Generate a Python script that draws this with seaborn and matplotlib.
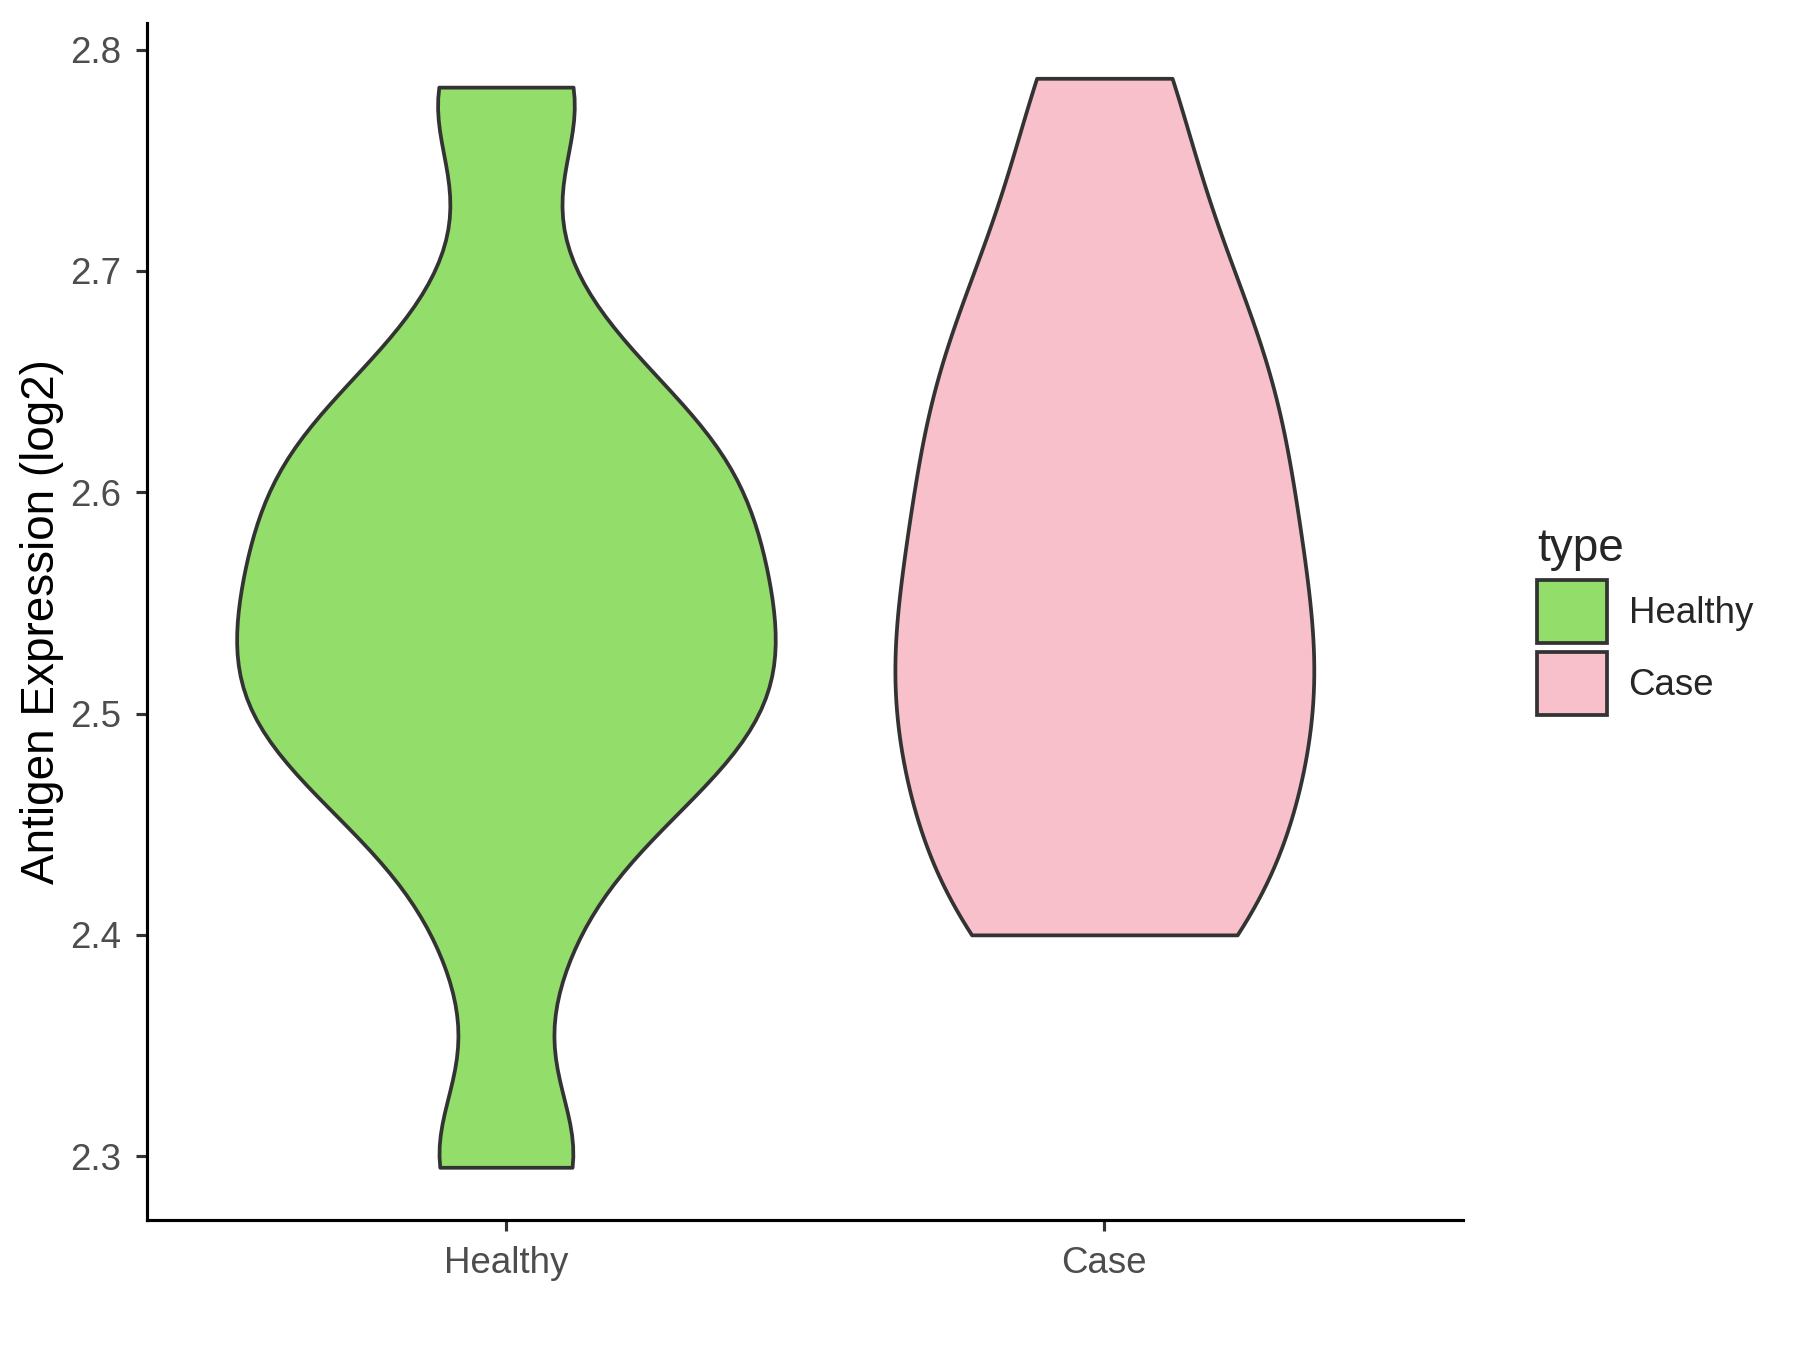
import numpy as np
import pandas as pd
import matplotlib.pyplot as plt
import seaborn as sns
from matplotlib.patches import Patch

healthy_vals = [2.295, 2.301, 2.385, 2.43, 2.455, 2.47, 2.482, 2.493, 2.503,
                2.513, 2.523, 2.534, 2.545, 2.556, 2.567, 2.579, 2.591, 2.603,
                2.615, 2.626, 2.64, 2.657, 2.70, 2.777, 2.783]
case_vals = [2.40, 2.41, 2.455, 2.48, 2.505, 2.53, 2.555, 2.585, 2.615,
             2.645, 2.675, 2.72, 2.787]
groups = ['Healthy', 'Case']
colors = ['#93DD6A', '#F7C0CB']
bw_factor = {'Healthy': 0.30, 'Case': 0.42}
# violins are scaled by area in the original, so Case comes out narrower
violin_width = {'Healthy': 0.9, 'Case': 0.70}

data = pd.DataFrame({
    'type': ['Healthy'] * len(healthy_vals) + ['Case'] * len(case_vals),
    'value': healthy_vals + case_vals,
})
palette = dict(zip(groups, colors))

sns.set_style('ticks')
plt.rcParams['font.family'] = ['Liberation Sans', 'DejaVu Sans']

fig = plt.figure(figsize=(6, 4.5), dpi=300)
ax = fig.add_axes([0.0816, 0.096, 0.7314, 0.887])

# each group gets its own kde bandwidth, like ggplot does per group
for g in groups:
    sns.violinplot(data=data[data['type'] == g], x='type', y='value',
                   hue='type', order=groups, hue_order=groups,
                   palette=palette, cut=0, inner=None,
                   density_norm='width', width=violin_width[g],
                   bw_method=bw_factor[g], linewidth=0.9,
                   linecolor='#333333', saturation=1, legend=False, ax=ax)

ax.set_xlim(-0.6, 1.6)
ax.set_ylim(2.271, 2.812)
ax.set_yticks([2.3, 2.4, 2.5, 2.6, 2.7, 2.8])
ax.set_xlabel('')
ax.set_ylabel('Antigen Expression (log2)', fontsize=11, color='black',
              labelpad=1.5)
ax.tick_params(axis='both', labelsize=8.8, labelcolor='#4D4D4D',
               color='#333333', width=0.75, length=2.7)
for side in ['top', 'right']:
    ax.spines[side].set_visible(False)
for side in ['left', 'bottom']:
    ax.spines[side].set_color('black')
    ax.spines[side].set_linewidth(0.75)

handles = [Patch(facecolor=c, edgecolor='#333333', linewidth=0.9, label=g)
           for g, c in zip(groups, colors)]
fig.legend(handles=handles, title='type', loc='center left',
           bbox_to_anchor=(0.8355, 0.54), frameon=False, fontsize=8.8,
           title_fontsize=11, handlelength=1.9, handleheight=2.25,
           handletextpad=0.6, labelspacing=0.25, alignment='left')

fig.savefig('out.png', dpi=300)
